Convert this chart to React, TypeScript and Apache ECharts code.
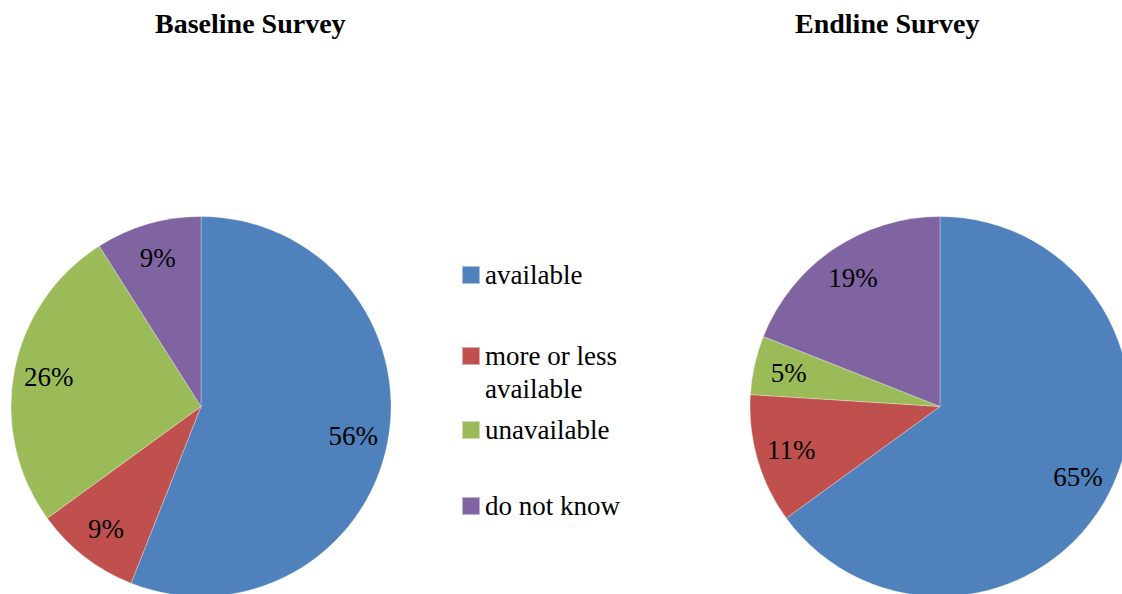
import React, { useEffect, useRef } from 'react';
import * as echarts from 'echarts';

const categories = ['available', 'more or less available', 'unavailable', 'do not know'];
const legendLabels: Record<string, string> = {
  'available': 'available',
  'more or less available': ' \nmore or less\navailable',
  'unavailable': 'unavailable',
  'do not know': 'do not know',
};
const baselineValues = [56, 9, 26, 9];
const endlineValues = [65, 11, 5, 19];
const colors = ['#4F81BD', '#C0504D', '#9BBB59', '#8064A2'];
const titles = ['Baseline Survey', 'Endline Survey'];

const SERIF = '"Liberation Serif", "Times New Roman", serif';
const R = 190;
const centers: [number, number][] = [
  [201, 406.5],
  [940, 406.5],
];
const legendCenters = [275, 356, 430, 506];
const titleLefts = [155, 795];

export default function App() {
  const ref = useRef<HTMLDivElement>(null);

  useEffect(() => {
    if (!ref.current) return;
    const chart = echarts.init(ref.current, undefined, { renderer: 'svg' });

    const mkData = (vals: number[], transparent: boolean) =>
      categories.map((n, i) => ({
        name: n,
        value: vals[i],
        itemStyle: { color: transparent ? 'rgba(0,0,0,0)' : colors[i] },
      }));

    const series: any[] = [];
    [baselineValues, endlineValues].forEach((vals, k) => {
      series.push({
        type: 'pie',
        center: centers[k],
        radius: [0, R],
        startAngle: 90,
        clockwise: true,
        avoidLabelOverlap: false,
        data: mkData(vals, false),
        label: { show: false },
        labelLine: { show: false },
        emphasis: { disabled: true },
        itemStyle: { borderColor: 'rgba(255,255,255,0.5)', borderWidth: 0.6 },
      });
    });
    [baselineValues, endlineValues].forEach((vals, k) => {
      series.push({
        type: 'pie',
        center: centers[k],
        radius: [R * 0.6, R],
        startAngle: 90,
        clockwise: true,
        silent: true,
        avoidLabelOverlap: false,
        data: mkData(vals, true),
        label: {
          show: true,
          position: 'inside',
          formatter: '{c}%',
          fontFamily: SERIF,
          fontSize: 27,
          color: '#000',
        },
        labelLine: { show: false },
        emphasis: { disabled: true },
        itemStyle: { borderWidth: 0 },
      });
    });

    const legends = categories.map((n, i) => {
      const lines = legendLabels[n].split('\n').length;
      const boxH = 33 * lines;
      return {
        orient: 'vertical',
        left: 461,
        top: legendCenters[i] - boxH / 2,
        padding: 0,
        itemWidth: 18,
        itemHeight: 18,
        icon: 'rect',
        data: [{ name: n, itemStyle: { color: colors[i] } }],
        formatter: (name: string) => legendLabels[name] ?? name,
        textStyle: {
          fontFamily: SERIF,
          fontSize: 27,
          lineHeight: 33,
          color: '#000',
        },
      };
    });

    chart.setOption({
      animation: false,
      backgroundColor: '#fff',
      title: titles.map((t, k) => ({
        text: t,
        left: titleLefts[k],
        top: 9,
        padding: 0,
        textStyle: {
          fontFamily: SERIF,
          fontWeight: 'bold',
          fontSize: 28,
          color: '#000',
        },
      })),
      legend: legends,
      series,
    });

    return () => chart.dispose();
  }, []);

  return (
    <div
      ref={ref}
      style={{ position: 'fixed', left: 0, top: 0, width: 1122, height: 594 }}
    />
  );
}
